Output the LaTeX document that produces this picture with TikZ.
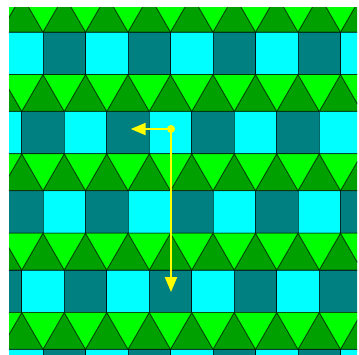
\documentclass[tikz,border=0pt]{standalone}
\usetikzlibrary{arrows.meta}
\definecolor{tileteal}{RGB}{0,128,128}
\definecolor{tilecyan}{RGB}{0,255,255}
\definecolor{trilight}{RGB}{0,255,0}
\definecolor{tridark}{RGB}{0,160,0}
\definecolor{vecyellow}{RGB}{255,255,0}

\begin{document}
\begin{tikzpicture}[x=1pt,y=-1pt,
  tile/.style={draw=black,draw opacity=0.6,line width=0.8pt},
  vec/.style={vecyellow,line width=2pt,-{Triangle[length=15pt,width=12pt]}}]
\useasboundingbox (0,0) rectangle (359,354);
\fill[white] (0,0) rectangle (359,354);
\def\s{42.5}
\pgfmathsetmacro{\h}{0.866*\s}
\pgfmathsetmacro{\per}{\s+\h}
\begin{scope}
\clip (9,7) rectangle (357,354);
\foreach \j in {0,...,4}{
  \pgfmathsetmacro{\yt}{32+\j*\per}
  \pgfmathsetmacro{\xo}{mod(\j,2)==0 ? 43 : 21.75}
  \pgfmathtruncatemacro{\c}{mod(floor(\j/2),2)}
  \foreach \i in {-1,...,8}{
    \pgfmathsetmacro{\xl}{\xo+\i*\s}
    \pgfmathtruncatemacro{\t}{mod(\i+\c+2,2)}
    \ifodd\t \def\sqc{tilecyan}\else\def\sqc{tileteal}\fi
    \filldraw[tile,fill=\sqc] (\xl,\yt) rectangle ++(\s,\s);
    \filldraw[tile,fill=tridark] (\xl,\yt) -- ++(\s,0) -- ++(-\s/2,-\h) -- cycle;
    \filldraw[tile,fill=trilight] (\xl,\yt) -- ++(-\s/2,-\h) -- ++(\s,0) -- cycle;
  }
}
\end{scope}
\coordinate (origin) at (171,129);
\coordinate (tipa) at (130.7,129);
\coordinate (tipb) at (171,292);
\draw[vec] (origin) -- (tipa);
\draw[vec] (origin) -- (tipb);
\fill[vecyellow] (origin) circle (4pt);
\end{tikzpicture}
\end{document}
